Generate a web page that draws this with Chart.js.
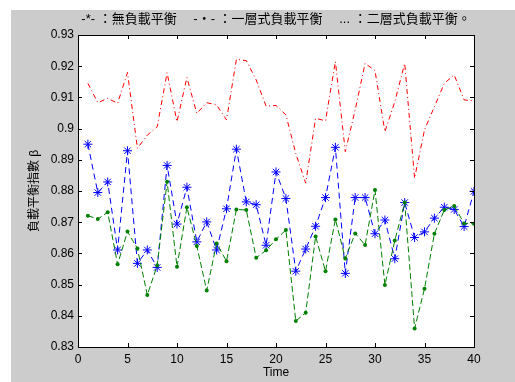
<!DOCTYPE html>
<html lang="zh-Hant">
<head>
<meta charset="UTF-8">
<title>負載平衡指數</title>
<script src="https://cdn.jsdelivr.net/npm/chart.js"></script>
<style>
    body { margin: 0; background: #fff; }
    #wrap { position: absolute; left: 11px; top: 10px; width: 504px; height: 372px; background: #cccccc; }
</style>
</head>
<body>
<div id="wrap"><canvas id="c" width="504" height="372"></canvas></div>
<script>
// 時間點
const timeSteps = [1, 2, 3, 4, 5, 6, 7, 8, 9, 10, 11, 12, 13, 14, 15, 16, 17, 18, 19, 20,
    21, 22, 23, 24, 25, 26, 27, 28, 29, 30, 31, 32, 33, 34, 35, 36, 37, 38, 39, 40];

// -*- 無負載平衡
const noBalance = [0.8950, 0.8795, 0.8829, 0.8611, 0.8929, 0.8568, 0.8611, 0.8555, 0.8882, 0.8694,
    0.8812, 0.8637, 0.8701, 0.8611, 0.8743, 0.8934, 0.8765, 0.8756, 0.8626, 0.8861,
    0.8776, 0.8543, 0.8614, 0.8687, 0.8779, 0.8940, 0.8536, 0.8779, 0.8779, 0.8663,
    0.8707, 0.8583, 0.8763, 0.8651, 0.8669, 0.8713, 0.8748, 0.8741, 0.8686, 0.8799];

// -.- 一層式負載平衡
const oneLayer = [0.8721, 0.8710, 0.8732, 0.8565, 0.8670, 0.8616, 0.8467, 0.8561, 0.8830, 0.8557,
    0.8748, 0.8624, 0.8481, 0.8632, 0.8575, 0.8741, 0.8739, 0.8586, 0.8610, 0.8645,
    0.8675, 0.8383, 0.8410, 0.8654, 0.8543, 0.8709, 0.8584, 0.8664, 0.8627, 0.8803,
    0.8499, 0.8641, 0.8763, 0.8359, 0.8487, 0.8663, 0.8739, 0.8752, 0.8696, 0.8695];

// ... 二層式負載平衡
const twoLayer = [0.9145, 0.9083, 0.9097, 0.9081, 0.9180, 0.8937, 0.8979, 0.9006, 0.9179, 0.9022,
    0.9164, 0.9049, 0.9083, 0.9076, 0.9028, 0.9222, 0.9218, 0.9156, 0.9072, 0.9074,
    0.9044, 0.8920, 0.8825, 0.9033, 0.9025, 0.9215, 0.8926, 0.9060, 0.9209, 0.9186,
    0.8990, 0.9086, 0.9209, 0.8841, 0.8996, 0.9070, 0.9145, 0.9172, 0.9092, 0.9089];

const toPoints = arr => arr.map((v, i) => ({ x: timeSteps[i], y: v }));

// 白色繪圖區 + 黑框 + 向內刻度 (MATLAB 風格)
const axesBox = {
    id: 'axesBox',
    beforeDatasetsDraw(chart) {
        const { ctx, chartArea: a } = chart;
        ctx.save();
        ctx.fillStyle = '#fff';
        ctx.fillRect(a.left, a.top, a.right - a.left, a.bottom - a.top);
        ctx.restore();
    },
    afterDraw(chart) {
        const { ctx, chartArea: a, scales } = chart;
        const len = 4;
        ctx.save();
        ctx.strokeStyle = '#000';
        ctx.lineWidth = 1;
        ctx.beginPath();
        scales.x.ticks.forEach(t => {
            const px = Math.round(scales.x.getPixelForValue(t.value)) + 0.5;
            ctx.moveTo(px, a.bottom); ctx.lineTo(px, a.bottom - len);
            ctx.moveTo(px, a.top); ctx.lineTo(px, a.top + len);
        });
        scales.y.ticks.forEach(t => {
            const py = Math.round(scales.y.getPixelForValue(t.value)) + 0.5;
            ctx.moveTo(a.left, py); ctx.lineTo(a.left + len, py);
            ctx.moveTo(a.right, py); ctx.lineTo(a.right - len, py);
        });
        ctx.stroke();
        ctx.strokeRect(Math.round(a.left) + 0.5, Math.round(a.top) + 0.5,
            Math.round(a.right - a.left), Math.round(a.bottom - a.top));
        ctx.restore();
    }
};

const tickFont = { family: 'Liberation Sans, Arial, sans-serif', size: 12 };
const cjkFont = { family: 'Liberation Sans, "Noto Sans CJK TC", sans-serif', size: 12 };

new Chart(document.getElementById('c'), {
    type: 'line',
    data: {
        datasets: [
            {
                label: '一層式負載平衡',
                data: toPoints(oneLayer),
                borderColor: '#008000',
                backgroundColor: '#008000',
                borderWidth: 1,
                borderDash: [6, 3],
                pointStyle: 'circle',
                pointRadius: 2,
                pointBorderWidth: 0,
                order: 0
            },
            {
                label: '無負載平衡',
                data: toPoints(noBalance),
                borderColor: '#0000ff',
                backgroundColor: '#0000ff',
                borderWidth: 1,
                borderDash: [6, 4],
                pointStyle: 'star',
                pointRadius: 4.5,
                pointBorderWidth: 1,
                order: 1
            },
            {
                label: '二層式負載平衡',
                data: toPoints(twoLayer),
                borderColor: '#ff0000',
                borderWidth: 1,
                borderDash: [5, 3, 1, 3],
                pointRadius: 0,
                order: 2
            }
        ]
    },
    options: {
        responsive: false,
        animation: false,
        layout: { padding: { left: 0, right: 41, top: 0, bottom: 0 } },
        elements: { line: { tension: 0, fill: false } },
        plugins: {
            legend: { display: false },
            tooltip: { enabled: false },
            title: {
                display: true,
                fullSize: false,
                text: '-*- ：無負載平衡　 -‧- ：一層式負載平衡　 ... ：二層式負載平衡。',
                color: '#000',
                font: { family: 'Liberation Sans, "Noto Sans CJK TC", sans-serif', size: 13, weight: 'normal', lineHeight: 1.1 },
                padding: { top: 2, bottom: 8.7 }
            }
        },
        scales: {
            x: {
                type: 'linear',
                min: 0,
                max: 40,
                ticks: { stepSize: 5, color: '#000', font: tickFont, padding: 5, maxRotation: 0 },
                grid: { display: true, drawOnChartArea: false, drawTicks: false, color: 'rgba(0,0,0,0)' },
                border: { display: false },
                title: { display: true, text: 'Time', color: '#000', font: tickFont, padding: { top: 0, bottom: 1.8 } },
                afterFit: s => { s.height = 35; }
            },
            y: {
                min: 0.83,
                max: 0.93,
                ticks: {
                    stepSize: 0.01,
                    color: '#000',
                    font: tickFont,
                    padding: 4,
                    callback: v => String(Number(v.toFixed(2)))
                },
                grid: { display: true, drawOnChartArea: false, drawTicks: false, color: 'rgba(0,0,0,0)' },
                border: { display: false },
                title: { display: true, text: '負載平衡指數 β', color: '#000', font: cjkFont, padding: { top: 16, bottom: 0 } },
                afterFit: s => { s.width = 67; }
            }
        }
    },
    plugins: [axesBox]
});
</script>
</body>
</html>
